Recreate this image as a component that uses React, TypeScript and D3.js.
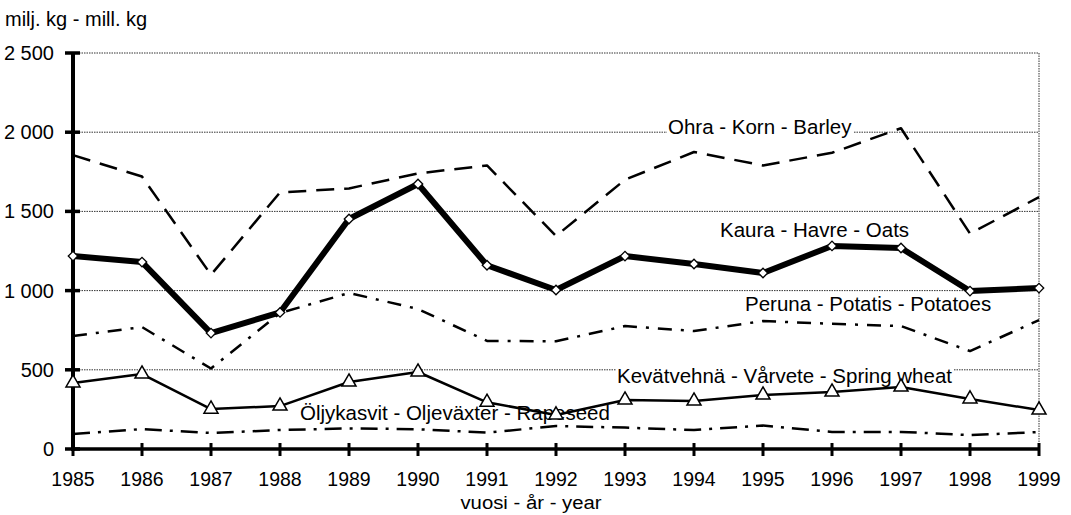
import { useEffect, useRef } from "react";
import * as d3 from "d3";

const years = [1985, 1986, 1987, 1988, 1989, 1990, 1991, 1992, 1993, 1994, 1995, 1996, 1997, 1998, 1999];
const barley = [1855, 1720, 1100, 1620, 1645, 1740, 1790, 1345, 1700, 1875, 1790, 1870, 2025, 1360, 1590];
const oats = [1218, 1180, 732, 862, 1452, 1673, 1160, 1004, 1218, 1168, 1111, 1282, 1269, 997, 1016];
const potatoes = [713, 770, 508, 858, 985, 884, 682, 680, 776, 745, 808, 790, 776, 618, 814];
const springWheat = [417, 473, 252, 271, 423, 486, 295, 215, 309, 303, 341, 360, 391, 316, 246];
const rapeseed = [95, 126, 101, 120, 130, 125, 103, 145, 135, 120, 148, 108, 108, 88, 107];
const yTicks = [0, 500, 1000, 1500, 2000, 2500];
const yTickLabels = ["0", "500", "1 000", "1 500", "2 000", "2 500"];

const labels = [
  { text: "Ohra - Korn - Barley", x: 668, y: 134 },
  { text: "Kaura - Havre - Oats", x: 720, y: 237 },
  { text: "Peruna - Potatis - Potatoes", x: 745, y: 311 },
  { text: "Kevätvehnä - Vårvete - Spring wheat", x: 617, y: 383 },
  { text: "Öljykasvit - Oljeväxter - Rapeseed", x: 300, y: 420 },
];

const FONT = "'Liberation Sans', Arial, sans-serif";

export default function App() {
  const ref = useRef<SVGSVGElement>(null);

  useEffect(() => {
    if (!ref.current) return;
    const width = 1071;
    const height = 515;
    const margin = { top: 53, right: 32, bottom: 66, left: 73 };

    const svg = d3.select(ref.current);
    svg.selectAll("*").remove();
    svg.attr("width", width).attr("height", height);

    const x = d3
      .scaleLinear()
      .domain([1985, 1999])
      .range([margin.left, width - margin.right]);
    const y = d3
      .scaleLinear()
      .domain([0, 2500])
      .range([height - margin.bottom, margin.top]);

    // gridlines
    svg
      .append("g")
      .attr("stroke", "#333")
      .attr("stroke-width", 1)
      .attr("stroke-dasharray", "1.5,1")
      .selectAll("line")
      .data(yTicks.slice(1))
      .join("line")
      .attr("x1", margin.left + 6)
      .attr("x2", x(1999))
      .attr("y1", (d) => y(d))
      .attr("y2", (d) => y(d));

    // right border
    svg
      .append("line")
      .attr("x1", x(1999))
      .attr("x2", x(1999))
      .attr("y1", y(2500))
      .attr("y2", y(0))
      .attr("stroke", "#333")
      .attr("stroke-dasharray", "1.5,1");

    // axes
    svg
      .append("line")
      .attr("x1", x(1985))
      .attr("x2", x(1985))
      .attr("y1", y(2500) - 1)
      .attr("y2", y(0) + 2)
      .attr("stroke", "#000")
      .attr("stroke-width", 4);
    svg
      .append("line")
      .attr("x1", x(1985) - 2)
      .attr("x2", x(1999) + 1)
      .attr("y1", y(0))
      .attr("y2", y(0))
      .attr("stroke", "#000")
      .attr("stroke-width", 3.5);

    svg
      .append("g")
      .selectAll("line")
      .data(yTicks)
      .join("line")
      .attr("x1", x(1985) - 8)
      .attr("x2", x(1985) + 7)
      .attr("y1", (d) => y(d))
      .attr("y2", (d) => y(d))
      .attr("stroke", "#000")
      .attr("stroke-width", 3.5);

    svg
      .append("g")
      .selectAll("line")
      .data(years)
      .join("line")
      .attr("x1", (d) => x(d))
      .attr("x2", (d) => x(d))
      .attr("y1", y(0) - 6)
      .attr("y2", y(0) + 7)
      .attr("stroke", "#000")
      .attr("stroke-width", 3);

    svg
      .append("g")
      .selectAll("text")
      .data(yTicks)
      .join("text")
      .attr("x", 54)
      .attr("y", (d) => y(d) + 7)
      .attr("text-anchor", "end")
      .attr("font-family", FONT)
      .attr("font-size", 20)
      .text((d, i) => yTickLabels[i]);

    // year labels
    svg
      .append("g")
      .selectAll("text")
      .data(years)
      .join("text")
      .attr("x", (d) => x(d))
      .attr("y", 486)
      .attr("text-anchor", "middle")
      .attr("font-family", FONT)
      .attr("font-size", 19.5)
      .text((d) => String(d));

    svg
      .append("text")
      .attr("transform", "translate(531,509) scale(1.07,1)")
      .attr("text-anchor", "middle")
      .attr("font-family", FONT)
      .attr("font-size", 19)
      .text("vuosi - år - year");

    svg
      .append("text")
      .attr("x", 5)
      .attr("y", 26)
      .attr("font-family", FONT)
      .attr("font-size", 20)
      .text("milj. kg - mill. kg");

    // series labels with white backing
    const lg = svg.append("g");
    labels.forEach((l) => {
      const t = lg
        .append("text")
        .attr("x", l.x)
        .attr("y", l.y)
        .attr("font-family", FONT)
        .attr("font-size", 20.5)
        .text(l.text);
      const bb = (t.node() as SVGTextElement).getBBox();
      lg.insert("rect", "text")
        .attr("x", bb.x - 1)
        .attr("y", bb.y + 3)
        .attr("width", bb.width + 2)
        .attr("height", bb.height - 6)
        .attr("fill", "#fff");
    });

    const line = d3
      .line<number>()
      .x((d, i) => x(years[i]))
      .y((d) => y(d));

    const series = [
      { values: rapeseed, width: 2.5, dash: "17,8,3,8" },
      { values: potatoes, width: 2.5, dash: "14,9,3,9" },
      { values: springWheat, width: 2.5, dash: null },
      { values: barley, width: 2.5, dash: "18,10" },
      { values: oats, width: 6, dash: null },
    ];

    series.forEach((s) => {
      svg
        .append("path")
        .datum(s.values)
        .attr("d", line)
        .attr("fill", "none")
        .attr("stroke", "#000")
        .attr("stroke-width", s.width)
        .attr("stroke-linejoin", "round")
        .attr("stroke-dasharray", s.dash);
    });

    // triangle markers
    svg
      .append("g")
      .selectAll("path")
      .data(springWheat)
      .join("path")
      .attr("d", d3.symbol(d3.symbolTriangle, 85)())
      .attr("transform", (d, i) => `translate(${x(years[i])},${y(d)})`)
      .attr("fill", "#fff")
      .attr("stroke", "#000")
      .attr("stroke-width", 1.5);

    // diamond markers
    svg
      .append("g")
      .selectAll("path")
      .data(oats)
      .join("path")
      .attr("d", d3.symbol(d3.symbolSquare, 45)())
      .attr("transform", (d, i) => `translate(${x(years[i])},${y(d)}) rotate(45)`)
      .attr("fill", "#fff")
      .attr("stroke", "#000")
      .attr("stroke-width", 1.3);
  }, []);

  return (
    <div style={{ position: "absolute", left: 0, top: 0, background: "#fff" }}>
      <svg ref={ref} style={{ display: "block" }} />
    </div>
  );
}
